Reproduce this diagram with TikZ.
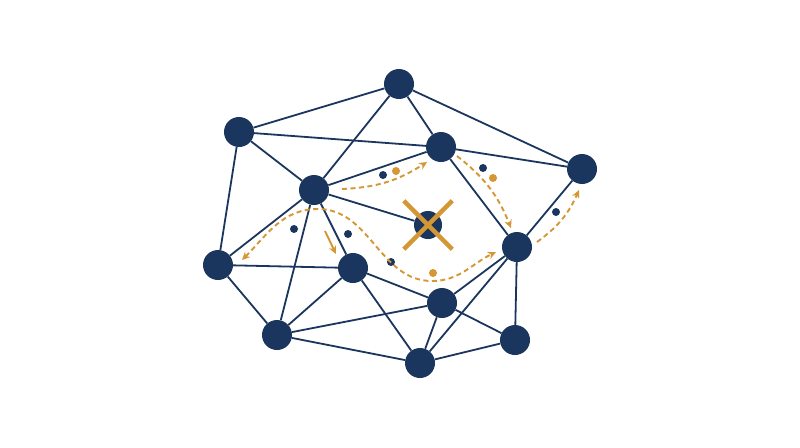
\documentclass[tikz,border=0pt]{standalone}
\usepackage{tikz}
\usetikzlibrary{
  arrows.meta,
  shapes.misc
}
\definecolor{navy}{RGB}{27,54,94}
\definecolor{gold}{RGB}{212,151,52}
\tikzset{
  >={Stealth[length=8pt, width=7.5pt, inset=2.5pt]},
  x=1pt, y=1pt,
  peer/.style={circle, fill=navy, inner sep=0pt, minimum size=30pt},
  link/.style={draw=navy, line width=1.8pt},
  dot/.style={circle, inner sep=0pt, minimum size=8pt},
  hop/.style={draw=gold, line width=1.9pt, dash pattern=on 5pt off 3.5pt, <-},
  hop2/.style={hop, ->}
}

\begin{document}
\begin{tikzpicture}
  \useasboundingbox[fill=white] (0,0) rectangle (800,-447);
    \node[peer] (n0) at (399,-84) {};
    \node[peer] (n1) at (239,-132) {};
    \node[peer] (n2) at (441,-147) {};
    \node[peer] (n3) at (582,-169) {};
    \node[peer] (n4) at (314,-190) {};
    \node[peer, minimum size=28pt] (n5) at (428,-225) {};
    \node[peer] (n6) at (218,-265) {};
    \node[peer] (n7) at (353,-268) {};
    \node[peer] (n8) at (517,-247) {};
    \node[peer] (n9) at (442,-303) {};
    \node[peer] (n10) at (277,-335) {};
    \node[peer] (n11) at (420,-363) {};
    \node[peer] (n12) at (515,-340) {};
    \draw[link] (n0) edge (n1);
    \draw[link] (n0) edge (n4);
    \draw[link] (n0) edge (n2);
    \draw[link] (n0) edge (n3);
    \draw[link] (n1) edge (n2);
    \draw[link] (n1) edge (n4);
    \draw[link] (n1) edge (n6);
    \draw[link] (n2) edge (n3);
    \draw[link] (n2) edge (n4);
    \draw[link] (n2) edge (n8);
    \draw[link] (n3) edge (n8);
    \draw[link] (n4) edge (n5);
    \draw[link] (n4) edge (n6);
    \draw[link] (n4) edge (n7);
    \draw[link] (n4) edge (n10);
    \draw[link] (n6) edge (n7);
    \draw[link] (n6) edge (n10);
    \draw[link] (n7) edge (n10);
    \draw[link] (n7) edge (n9);
    \draw[link] (n7) edge (n11);
    \draw[link] (n8) edge (n9);
    \draw[link] (n8) edge (n11);
    \draw[link] (n8) edge (n12);
    \draw[link] (n9) edge (n10);
    \draw[link] (n9) edge (n11);
    \draw[link] (n9) edge (n12);
    \draw[link] (n10) edge (n11);
    \draw[link] (n11) edge (n12);
    % failed peer
    \node[cross out, draw=gold, line width=4.5pt, minimum size=44pt] (xx) at (n5) {};
    % packets
    \node[dot, fill=navy] (d0) at (383,-175) {};
    \node[dot, fill=gold] (d1) at (396,-171) {};
    \node[dot, fill=navy] (d2) at (483,-168) {};
    \node[dot, fill=gold] (d3) at (493,-178) {};
    \node[dot, fill=navy] (d4) at (556,-212) {};
    \node[dot, fill=navy] (d5) at (294,-229) {};
    \node[dot, fill=navy] (d6) at (348,-234) {};
    \node[dot, fill=navy] (d7) at (391,-262) {};
    \node[dot, fill=gold] (d8) at (433,-273) {};
    % routes
    \coordinate (a1) at (342,-189);
    \coordinate (b1) at (427,-162);
    \coordinate (a2) at (457,-156);
    \coordinate (b2) at (511,-228);
    \coordinate (a3) at (537,-242);
    \coordinate (b3) at (579,-190);
    \coordinate (a4) at (242,-260);
    \coordinate (p4) at (318,-209);
    \coordinate (q4) at (432,-281);
    \coordinate (b4) at (496,-252);
    \coordinate (a5) at (325,-231);
    \coordinate (b5) at (336,-254);
    \draw[hop2] (a1) to[bend right=15] (b1);
    \draw[hop2] (a2) to[bend left=15] (b2);
    \draw[hop2] (a3) to[bend right=15] (b3);
    \draw[hop, <->] (a4) to[out=45,in=180] (p4) to[out=0,in=180] (q4) to[out=0,in=206] (b4);
    \draw[draw=gold, line width=1.9pt, ->] (a5) -- (b5);
  \end{tikzpicture}
\end{document}
